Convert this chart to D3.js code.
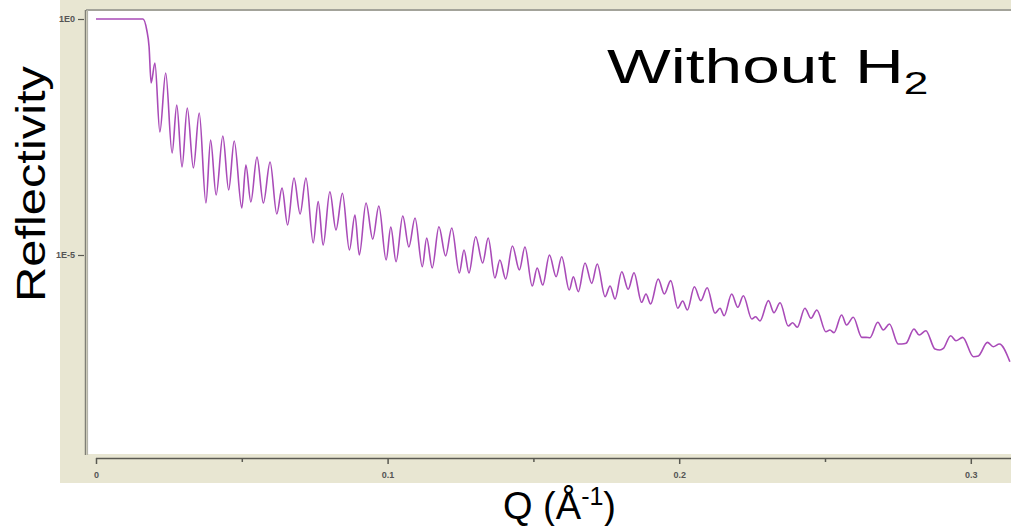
<!DOCTYPE html>
<html>
<head>
<meta charset="utf-8">
<script src="https://cdn.jsdelivr.net/npm/d3@7"></script>
<style>
  body { margin: 0; background: #fff; }
  svg { display: block; }
  .tick text { font-family: "Liberation Sans", Arial, sans-serif; font-size: 9px; font-weight: bold; fill: #555; }
  .big { font-family: "Liberation Sans", Arial, sans-serif; fill: #000; }
</style>
</head>
<body>
<div id="chart"></div>
<script>
// momentum transfer Q (1/A)
var qValues = [0, 0.0161, 0.0174, 0.0182, 0.0189, 0.0202, 0.0219, 0.0239, 0.0261, 0.0277,
  0.0295, 0.0313, 0.0334, 0.0354, 0.0377, 0.0393, 0.0412, 0.0435, 0.0455, 0.0474,
  0.0500, 0.0514, 0.0531, 0.0552, 0.0574, 0.0597, 0.0620, 0.0638, 0.0657, 0.0679,
  0.0700, 0.0720, 0.0745, 0.0762, 0.0779, 0.0802, 0.0823, 0.0845, 0.0869, 0.0888,
  0.0903, 0.0926, 0.0949, 0.0970, 0.0995, 0.1011, 0.1029, 0.1052, 0.1073, 0.1094,
  0.1119, 0.1134, 0.1153, 0.1176, 0.1199, 0.1220, 0.1246, 0.1262, 0.1279, 0.1302,
  0.1326, 0.1345, 0.1368, 0.1385, 0.1405, 0.1428, 0.1452, 0.1471, 0.1496, 0.1513,
  0.1532, 0.1555, 0.1578, 0.1597, 0.1623, 0.1637, 0.1654, 0.1677, 0.1700, 0.1719,
  0.1746, 0.1763, 0.1780, 0.1803, 0.1825, 0.1845, 0.1871, 0.1886, 0.1902, 0.1928,
  0.1949, 0.1971, 0.1995, 0.2012, 0.2028, 0.2052, 0.2074, 0.2096, 0.2123, 0.2140,
  0.2154, 0.2180, 0.2201, 0.2220, 0.2249, 0.2262, 0.2277, 0.2306, 0.2325, 0.2346,
  0.2374, 0.2389, 0.2405, 0.2431, 0.2452, 0.2472, 0.2503, 0.2517, 0.2531, 0.2557,
  0.2574, 0.2597, 0.2626, 0.2641, 0.2654, 0.2681, 0.2700, 0.2721, 0.2751, 0.2763,
  0.2778, 0.2805, 0.2823, 0.2846, 0.2877, 0.2894, 0.2906, 0.2931, 0.2949, 0.2972,
  0.3009, 0.3026, 0.3057, 0.3077, 0.3098, 0.3134];

// reflectivity at each Q
var reflValues = [1, 1, 0.585, 0.259, 0.0441, 0.117, 4.04e-3, 0.0718, 1.45e-3, 0.0151,
  7.32e-4, 0.0130, 6.97e-4, 0.0102, 1.26e-4, 2.73e-3, 1.87e-4, 3.32e-3, 2.38e-4, 2.60e-3,
  9.9e-5, 8.07e-4, 1.33e-4, 1.19e-3, 1.26e-4, 9.34e-4, 7.39e-5, 2.63e-4, 4.32e-5, 4.28e-4,
  7.39e-5, 4.28e-4, 1.80e-5, 1.35e-4, 1.63e-5, 2.19e-4, 3.39e-5, 2.03e-4, 1.28e-5, 7.04e-5,
  1.0e-5, 1.26e-4, 2.18e-5, 1.09e-4, 7.84e-6, 3.92e-5, 7.21e-6, 6.70e-5, 1.48e-5, 6.08e-5,
  5.65e-6, 2.29e-5, 5.31e-6, 3.98e-5, 9.53e-6, 3.73e-5, 4.16e-6, 1.28e-5, 4.16e-6, 2.44e-5,
  6.77e-6, 2.29e-5, 3.26e-6, 7.84e-6, 3.10e-6, 1.55e-5, 4.81e-6, 1.48e-5, 2.20e-6, 5.31e-6,
  2.31e-6, 1.0e-5, 3.47e-6, 9.20e-6, 1.81e-6, 3.47e-6, 1.67e-6, 6.77e-6, 2.51e-6, 6.45e-6,
  1.31e-6, 2.20e-6, 1.17e-6, 4.43e-6, 1.88e-6, 4.22e-6, 9.95e-7, 1.49e-6, 9.16e-7, 3.10e-6,
  1.49e-6, 2.86e-6, 7.43e-7, 1.06e-6, 6.84e-7, 2.13e-6, 1.08e-6, 2.03e-6, 5.82e-7, 7.43e-7,
  5.18e-7, 1.49e-6, 7.80e-7, 1.37e-6, 4.41e-7, 4.93e-7, 4.00e-7, 1.08e-6, 6.00e-7, 9.75e-7,
  3.13e-7, 3.68e-7, 2.94e-7, 7.43e-7, 4.56e-7, 6.84e-7, 2.37e-7, 2.58e-7, 2.26e-7, 5.36e-7,
  3.29e-7, 4.79e-7, 1.80e-7, 1.80e-7, 1.77e-7, 3.75e-7, 2.58e-7, 3.45e-7, 1.30e-7, 1.30e-7,
  1.35e-7, 2.71e-7, 2.02e-7, 2.49e-7, 1.02e-7, 9.71e-8, 1.05e-7, 1.95e-7, 1.53e-7, 1.80e-7,
  7.00e-8, 7.25e-8, 1.41e-7, 1.14e-7, 1.30e-7, 5.48e-8];

var xTickValues = [0, 0.1, 0.2, 0.3];
var xMinorTicks = [0.05, 0.15, 0.25];
var yTickValues = [1, 1e-5];
var yTickLabels = ["1E0", "1E-5"];

var W = 1011, H = 526;

var svg = d3.select("#chart").append("svg")
    .attr("width", W)
    .attr("height", H);

// beige panel of the plotting program
svg.append("rect")
    .attr("x", 60).attr("y", 0)
    .attr("width", W - 60).attr("height", 483)
    .attr("fill", "#e8e6d2");

// white plot area
var plot = {left: 88, top: 10, right: W, bottom: 454};
svg.append("rect")
    .attr("x", plot.left).attr("y", plot.top)
    .attr("width", plot.right - plot.left).attr("height", plot.bottom - plot.top)
    .attr("fill", "#fff");

svg.append("line")
    .attr("x1", plot.left - 2).attr("x2", W)
    .attr("y1", plot.top).attr("y2", plot.top)
    .style("stroke", "#a3a39a").style("stroke-width", 2);

// double grey frame line on the left
svg.append("line")
    .attr("x1", plot.left - 2.5).attr("x2", plot.left - 2.5)
    .attr("y1", plot.top).attr("y2", plot.bottom + 1)
    .style("stroke", "#7f7f76").style("stroke-width", 1.5);
svg.append("line")
    .attr("x1", plot.left - 0.5).attr("x2", plot.left - 0.5)
    .attr("y1", plot.top).attr("y2", plot.bottom + 1)
    .style("stroke", "#b4b4aa").style("stroke-width", 1.2);

var x = d3.scaleLinear().domain([0, 0.1]).range([96, 387.6]);
var y = d3.scaleLog().domain([1e-5, 1]).range([255, 19]);

// x axis sits below the white area
var xAxis = svg.append("g")
    .attr("transform", "translate(0,458)")
    .call(d3.axisBottom(x)
        .tickValues(xTickValues)
        .tickSize(6)
        .tickPadding(8)
        .tickFormat(d3.format("~g")));
xAxis.select(".domain")
    .attr("d", "M" + x(0) + ",0.5H" + W)
    .style("stroke", "#5a5a52").style("stroke-width", 1.5);
xAxis.selectAll(".tick line").style("stroke", "#5a5a52").style("stroke-width", 1.5);

svg.append("g")
    .attr("transform", "translate(0,458)")
    .call(d3.axisBottom(x).tickValues(xMinorTicks).tickSize(4).tickFormat(""))
    .call(function(g) {
        g.select(".domain").remove();
        g.selectAll(".tick line").style("stroke", "#5a5a52").style("stroke-width", 1.5);
    });

// y axis ticks (log)
var yAxis = svg.append("g")
    .attr("transform", "translate(84,0)")
    .call(d3.axisLeft(y)
        .tickValues(yTickValues)
        .tickSize(6)
        .tickPadding(3)
        .tickFormat(function(d, i) { return yTickLabels[i]; }));
yAxis.select(".domain").remove();
yAxis.selectAll(".tick line").style("stroke", "#5a5a52").style("stroke-width", 1.2);

// the reflectivity curve
var data = qValues.map(function(q, i) { return {q: q, r: reflValues[i]}; });

svg.append("clipPath").attr("id", "clip")
    .append("rect")
    .attr("x", plot.left).attr("y", plot.top + 1)
    .attr("width", plot.right - plot.left).attr("height", plot.bottom - plot.top);

var valueline = d3.line()
    .x(function(d) { return x(d.q); })
    .y(function(d) { return y(d.r); })
    .curve(d3.curveMonotoneX);

svg.append("path")
    .datum(data)
    .attr("clip-path", "url(#clip)")
    .attr("d", valueline)
    .style("fill", "none")
    .style("stroke", "#a94bb8")
    .style("stroke-width", 1.6);

// labels
svg.append("text")
    .attr("class", "big")
    .attr("transform", "translate(45,184) rotate(-90)")
    .attr("text-anchor", "middle")
    .attr("font-size", 41)
    .attr("textLength", 236)
    .attr("lengthAdjust", "spacingAndGlyphs")
    .text("Reflectivity");

// the slide stretched the title sideways
var title = svg.append("text")
    .attr("class", "big")
    .attr("transform", "translate(607,83) scale(1.38,1)")
    .attr("font-size", 49);
title.append("tspan").text("Without H");
title.append("tspan").attr("font-size", 32).attr("dy", 11).text("2");

var xlab = svg.append("text")
    .attr("class", "big")
    .attr("x", 503).attr("y", 519)
    .attr("font-size", 38);
xlab.append("tspan").text("Q (Å");
xlab.append("tspan").attr("font-size", 25).attr("dy", -14).text("-1");
xlab.append("tspan").attr("dy", 14).text(")");
</script>
</body>
</html>
